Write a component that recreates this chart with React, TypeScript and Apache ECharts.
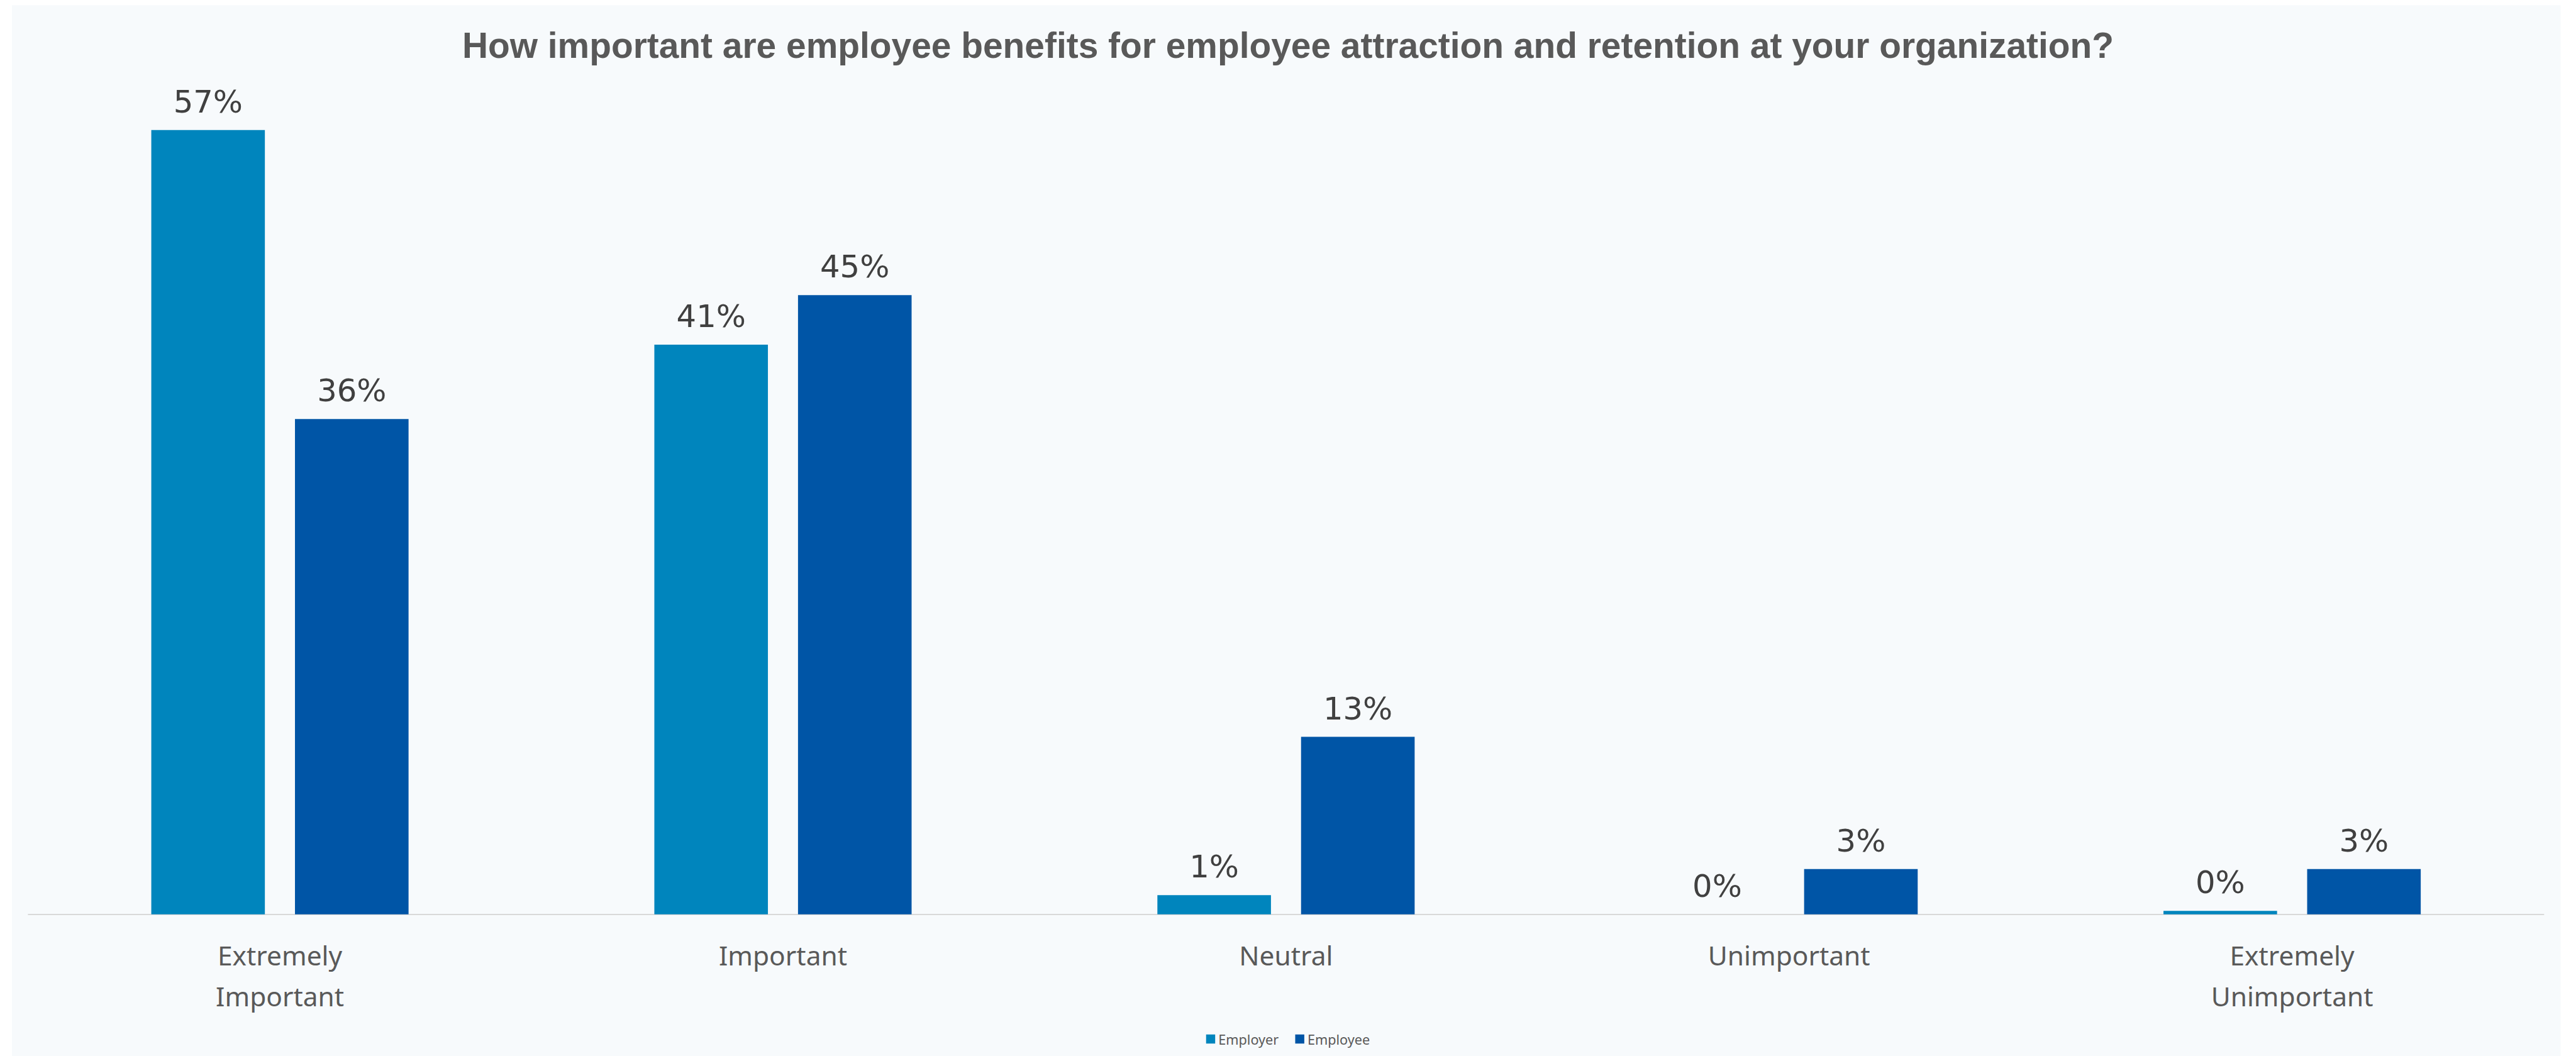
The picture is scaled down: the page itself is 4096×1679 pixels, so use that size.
import React, { useEffect, useRef } from "react";
import * as echarts from "echarts";

const S = 0.903;
const W = 4096;
const H = 1679;

const titleText =
  "How important are employee benefits for employee attraction and retention at your organization?";
const categories = [
  "Extremely\nImportant",
  "Important",
  "Neutral",
  "Unimportant",
  "Extremely\nUnimportant",
];
const seriesNames = ["Employer", "Employee"];
const employerValues = [57, 41.4, 1.4, 0, 0.25];
const employeeValues = [36, 45, 12.9, 3.3, 3.3];
const colors = ["#0085BD", "#0055A6"];

export default function App() {
  const ref = useRef<HTMLDivElement>(null);

  useEffect(() => {
    document.body.style.margin = "0";
    const chart = echarts.init(ref.current!, null, { renderer: "svg" });
    const labelCfg = {
      show: true,
      position: "top",
      distance: 20,
      fontFamily: "DejaVu Sans",
      fontSize: 55 * S,
      color: "#404040",
      formatter: (p: any) => Math.round(p.value) + "%",
    };
    chart.setOption({
      animation: false,
      backgroundColor: "#ffffff",
      graphic: [
        {
          type: "rect",
          z: -10,
          silent: true,
          shape: { x: 21 * S, y: 9 * S, width: (4509 - 21) * S, height: H },
          style: { fill: "#F7FAFC" },
        },
      ],
      title: {
        text: titleText,
        left: "center",
        top: 39,
        textStyle: {
          fontFamily: "Liberation Sans",
          fontWeight: "bold",
          fontSize: 63 * S,
          lineHeight: 63 * S,
          color: "#595959",
        },
      },
      legend: {
        data: seriesNames,
        left: "center",
        top: 1636,
        itemWidth: 16 * S,
        itemHeight: 16 * S,
        itemGap: 29 * S,
        icon: "rect",
        textStyle: {
          fontFamily: "Noto Sans",
          fontSize: 24 * S,
          color: "#595959",
        },
      },
      grid: {
        left: 50 * S,
        right: W - 4479 * S,
        top: 156.2 * S,
        bottom: H - 1610 * S,
        containLabel: false,
      },
      xAxis: {
        type: "category",
        data: categories,
        axisLine: { show: true, lineStyle: { color: "#D9D9D9", width: 2 } },
        axisTick: { show: false },
        axisLabel: {
          interval: 0,
          margin: 32,
          fontFamily: "Noto Sans",
          fontSize: 47 * S,
          lineHeight: 72 * S,
          color: "#595959",
        },
      },
      yAxis: {
        type: "value",
        min: 0,
        max: 60,
        show: false,
        splitLine: { show: false },
      },
      series: [
        {
          name: seriesNames[0],
          type: "bar",
          data: employerValues,
          barWidth: 200 * S,
          barGap: "26.5%",
          itemStyle: { color: colors[0] },
          label: labelCfg,
        },
        {
          name: seriesNames[1],
          type: "bar",
          data: employeeValues,
          barWidth: 200 * S,
          barGap: "26.5%",
          itemStyle: { color: colors[1] },
          label: labelCfg,
        },
      ],
    });
    return () => chart.dispose();
  }, []);

  return (
    <div
      ref={ref}
      style={{ position: "absolute", left: 0, top: 0, width: W, height: H }}
    />
  );
}
